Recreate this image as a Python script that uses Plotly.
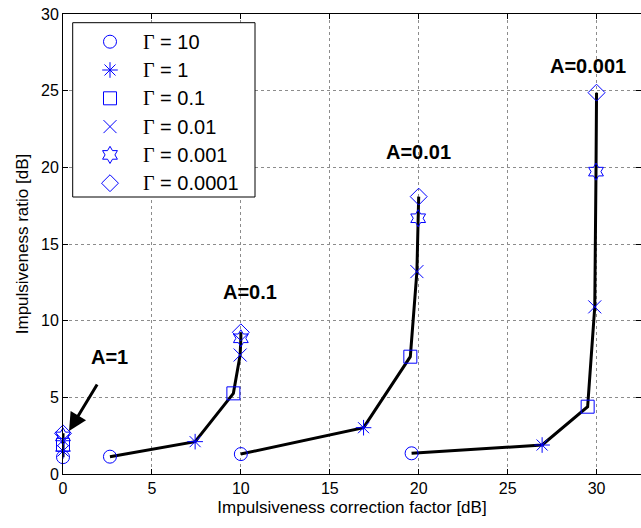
import plotly.graph_objects as go

# ---- data ----
A_values = ["1", "0.1", "0.01", "0.001"]
gammas = ["10", "1", "0.1", "0.01", "0.001", "0.0001"]

# correction factor [dB] for each Gamma, one value per A (A=1, 0.1, 0.01, 0.001)
x_g10 = [0.0, 2.64, 10.0, 19.6]
x_g1 = [0.0, 7.43, 16.9, 26.94]
x_g01 = [0.0, 9.58, 19.53, 29.5]
x_g001 = [0.0, 9.96, 19.9, 29.9]
x_g0001 = [0.0, 10.0, 19.97, 29.97]
x_g00001 = [0.0, 10.0, 20.0, 30.0]

# impulsiveness ratio [dB]
y_g10 = [1.1, 1.13, 1.3, 1.35]
y_g1 = [1.5, 2.11, 3.02, 1.89]
y_g01 = [1.9, 5.26, 7.65, 4.39]
y_g001 = [2.2, 7.76, 13.2, 10.9]
y_g0001 = [2.45, 8.85, 16.68, 19.72]
y_g00001 = [2.65, 9.24, 18.09, 24.87]

xs = [x_g10, x_g1, x_g01, x_g001, x_g0001, x_g00001]
ys = [y_g10, y_g1, y_g01, y_g001, y_g0001, y_g00001]
symbols = ["circle-open", "asterisk-open", "square-open", "x-thin-open",
           "hexagram-open", "diamond-open"]

# label positions for each A curve
label_x = [2.6, 10.5, 20.0, 29.5]
label_y = [7.6, 11.9, 21.0, 26.6]

BLUE = "#0000ff"
FONT = "Liberation Sans"

# plot-area geometry (pixels) used to place the hand-drawn legend
L, T, W, H = 63, 14, 578, 460


def px2paper(px, py):
    return (px - L) / W, (T + H - py) / H


fig = go.Figure()

# black curves: one per A, passing through the Gamma points
for j in range(len(A_values)):
    fig.add_trace(go.Scatter(
        x=[xs[i][j] for i in range(len(gammas))],
        y=[ys[i][j] for i in range(len(gammas))],
        mode="lines", line=dict(color="black", width=3),
        showlegend=False, hoverinfo="skip", cliponaxis=False))

# markers: one trace per Gamma
for i, g in enumerate(gammas):
    fig.add_trace(go.Scatter(
        x=xs[i], y=ys[i], mode="markers", showlegend=False,
        name="Γ = " + g, cliponaxis=False,
        marker=dict(symbol=symbols[i], size=13, color=BLUE,
                    line=dict(color=BLUE, width=1))))

# ---- legend (drawn on an overlay axis in paper units) ----
bx0, by0 = px2paper(72.7, 197)
bx1, by1 = px2paper(255, 22.7)
fig.add_trace(go.Scatter(
    x=[bx0, bx1, bx1, bx0, bx0], y=[by0, by0, by1, by1, by0],
    xaxis="x2", yaxis="y2", mode="lines", fill="toself",
    fillcolor="white", line=dict(color="black", width=1),
    showlegend=False, hoverinfo="skip"))

entry_py = [41.7 + 28.3 * k for k in range(len(gammas))]
for i, g in enumerate(gammas):
    mx, my = px2paper(110, entry_py[i])
    fig.add_trace(go.Scatter(
        x=[mx], y=[my], xaxis="x2", yaxis="y2", mode="markers",
        showlegend=False, hoverinfo="skip", cliponaxis=False,
        marker=dict(symbol=symbols[i], size=13, color=BLUE,
                    line=dict(color=BLUE, width=1))))
    tx, ty = px2paper(141, entry_py[i])
    fig.add_annotation(
        x=tx, y=ty, xref="paper", yref="paper", xanchor="left", yanchor="middle",
        showarrow=False,
        text="<span style='font-family:Liberation Serif'>Γ</span> = " + g,
        font=dict(family=FONT, size=20, color="black"))

for j, a in enumerate(A_values):
    fig.add_annotation(x=label_x[j], y=label_y[j], text="<b>A=" + a + "</b>",
                       showarrow=False,
                       font=dict(family=FONT, size=20, color="black"))

# arrow pointing at the A=1 cluster
fig.add_annotation(x=0.34, y=2.8, ax=1.97, ay=5.94, axref="x", ayref="y",
                   xref="x", yref="y", text="", showarrow=True,
                   arrowhead=2, arrowsize=1.2, arrowwidth=3, arrowcolor="black")

axis_common = dict(
    showline=True, linecolor="black", linewidth=1, mirror="ticks",
    ticks="inside", ticklen=5, tickcolor="black",
    showgrid=True, gridcolor="#8c8c8c", griddash="dot", gridwidth=1,
    zeroline=False,
    tickfont=dict(family=FONT, size=16, color="black"),
)

fig.update_xaxes(range=[0, 32.5], dtick=5, tick0=0,
                 title=dict(text="Impulsiveness correction factor [dB]",
                            font=dict(family=FONT, size=17, color="black"),
                            standoff=4),
                 **axis_common)
fig.update_yaxes(range=[0, 30], dtick=5, tick0=0,
                 title=dict(text="Impulsiveness ratio [dB]",
                            font=dict(family=FONT, size=17, color="black"),
                            standoff=8),
                 **axis_common)

fig.update_layout(
    width=641, height=528,
    margin=dict(l=L, r=641 - L - W, t=T, b=528 - T - H),
    plot_bgcolor="white", paper_bgcolor="white",
    showlegend=False,
    xaxis2=dict(overlaying="x", anchor="y2", range=[0, 1], visible=False,
                fixedrange=True),
    yaxis2=dict(overlaying="y", anchor="x2", range=[0, 1], visible=False,
                fixedrange=True),
    font=dict(family=FONT, color="black"),
)

fig.write_html("out.html")
